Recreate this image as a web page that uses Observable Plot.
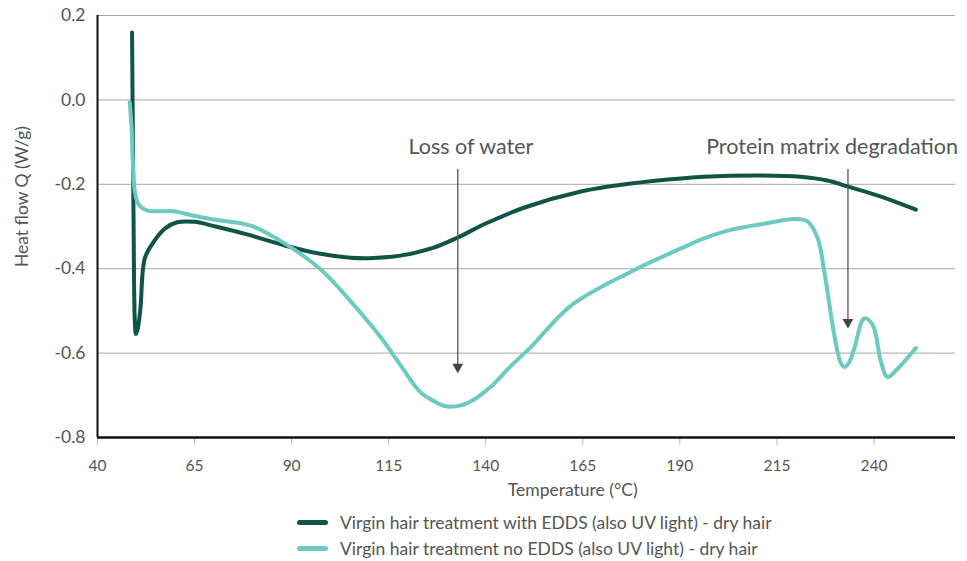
<!DOCTYPE html>
<html>
<head>
<meta charset="utf-8">
<script src="https://cdn.jsdelivr.net/npm/d3@7"></script>
<script src="https://cdn.jsdelivr.net/npm/@observablehq/plot@0.6"></script>
<style>
  body { margin: 0; background: #fff; font-family: Lato, "Open Sans", sans-serif; }
  #legend { margin-left: 297px; margin-top: 4px; font-size: 17.5px; color: #555; }
  .row { display: flex; align-items: center; height: 26px; }
  .sw { width: 31px; height: 5px; border-radius: 3px; margin-right: 12px; }
</style>
</head>
<body>
<div id="chart"></div>
<div id="legend"></div>
<script>
const seriesNames = [
  "Virgin hair treatment with EDDS (also UV light) - dry hair",
  "Virgin hair treatment no EDDS (also UV light) - dry hair"
];
const seriesColors = ["#0f5446", "#6ccac1"];

// Series 1: with EDDS (dark)
const edds_T = [48.9, 49.3, 49.6, 49.9, 50.3, 50.6, 51.1, 52.2, 54.5, 57.5, 60.5, 65, 70.4, 79, 88.2, 97, 105.2, 110, 118, 126, 132.8, 140, 150, 164.5, 177.4, 190.3, 203, 210.9, 221, 228, 233.2, 241.8, 250.8];
const edds_Q = [0.16, -0.30, -0.52, -0.555, -0.545, -0.53, -0.49, -0.375, -0.336, -0.304, -0.29, -0.289, -0.30, -0.32, -0.345, -0.364, -0.374, -0.375, -0.369, -0.352, -0.326, -0.293, -0.255, -0.217, -0.198, -0.186, -0.18, -0.179, -0.182, -0.191, -0.205, -0.229, -0.26];

// Series 2: no EDDS (light)
const no_T = [48.3, 48.8, 49.4, 50.0, 50.6, 51.5, 53.2, 56, 59.7, 65, 70.4, 79.4, 88.2, 97.5, 105, 112.9, 118, 123.2, 126.5, 129.7, 133.6, 137, 141.3, 146, 151.6, 161.9, 177.4, 190.3, 195.4, 203.1, 212, 219.5, 222.9, 225.5, 227.2, 229.8, 231.3, 232.3, 233.4, 234.9, 237.5, 239.7, 241.8, 243.5, 246.1, 250.8];
const no_Q = [-0.006, -0.07, -0.20, -0.235, -0.248, -0.256, -0.263, -0.264, -0.264, -0.275, -0.284, -0.298, -0.34, -0.402, -0.475, -0.562, -0.628, -0.693, -0.713, -0.726, -0.724, -0.71, -0.68, -0.635, -0.586, -0.488, -0.407, -0.352, -0.331, -0.308, -0.293, -0.282, -0.288, -0.328, -0.407, -0.558, -0.62, -0.633, -0.625, -0.59, -0.518, -0.534, -0.621, -0.657, -0.637, -0.588];

const xTicks = [40, 65, 90, 115, 140, 165, 190, 215, 240];
const yTicks = [0.2, 0.0, -0.2, -0.4, -0.6, -0.8];
const yGrid = [0.2, 0.0, -0.2, -0.4, -0.6];

const annotations = [
  {label: "Loss of water", labelT: 136.2, T: 132.8, top: -0.164, bottom: -0.628},
  {label: "Protein matrix degradation", labelT: 229.2, T: 233.3, top: -0.164, bottom: -0.522}
];

const data = [
  ...edds_T.map((t, i) => ({T: t, Q: edds_Q[i], s: seriesNames[0]})),
  ...no_T.map((t, i) => ({T: t, Q: no_Q[i], s: seriesNames[1]}))
];

const chart = Plot.plot({
  width: 967,
  height: 505,
  marginLeft: 97,
  marginRight: 12,
  marginTop: 15,
  marginBottom: 68,
  style: {fontFamily: "Lato, 'Open Sans', sans-serif", color: "#555", background: "#fff"},
  x: {domain: [40, 261]},
  y: {domain: [-0.8, 0.2]},
  color: {domain: seriesNames, range: seriesColors},
  marks: [
    Plot.ruleY(yGrid, {stroke: "#a8a8a8", strokeWidth: 1}),
    Plot.axisY({ticks: yTicks, tickSize: 0, tickPadding: 12, fontSize: 17.5, label: null, tickFormat: d => d.toFixed(1)}),
    Plot.axisX({ticks: xTicks, tickSize: 8, tickPadding: 14, fontSize: 15.5, label: null, stroke: "#bbb"}),
    Plot.text(["Heat flow Q (W/g)"], {x: () => 40, y: () => -0.229, dx: -75, rotate: -90, fontSize: 17.5, fill: "#555"}),
    Plot.text(["Temperature (°C)"], {x: () => 162.4, y: () => -0.8, dy: 53, fontSize: 17.5, fill: "#555"}),
    Plot.line(data, {x: "T", y: "Q", z: "s", stroke: "s", strokeWidth: 4, curve: "catmull-rom", strokeLinecap: "round", strokeLinejoin: "round"}),
    Plot.ruleX([40], {stroke: "#111", strokeWidth: 2}),
    Plot.ruleY([-0.8], {stroke: "#111", strokeWidth: 2.5}),
    Plot.link(annotations, {x1: "T", x2: "T", y1: "top", y2: "bottom", stroke: "#555", strokeWidth: 1.3}),
    Plot.dot(annotations, {x: "T", y: "bottom", symbol: "triangle", r: 4, fill: "#444", rotate: 180, dy: 2}),
    Plot.text(annotations, {x: "labelT", y: () => -0.112, text: "label", fontSize: 21.5, fill: "#555"})
  ]
});
document.getElementById("chart").appendChild(chart);

const legend = document.getElementById("legend");
seriesNames.forEach((n, i) => {
  const row = document.createElement("div");
  row.className = "row";
  row.innerHTML = `<div class="sw" style="background:${seriesColors[i]}"></div><span>${n}</span>`;
  legend.appendChild(row);
});
</script>
</body>
</html>
